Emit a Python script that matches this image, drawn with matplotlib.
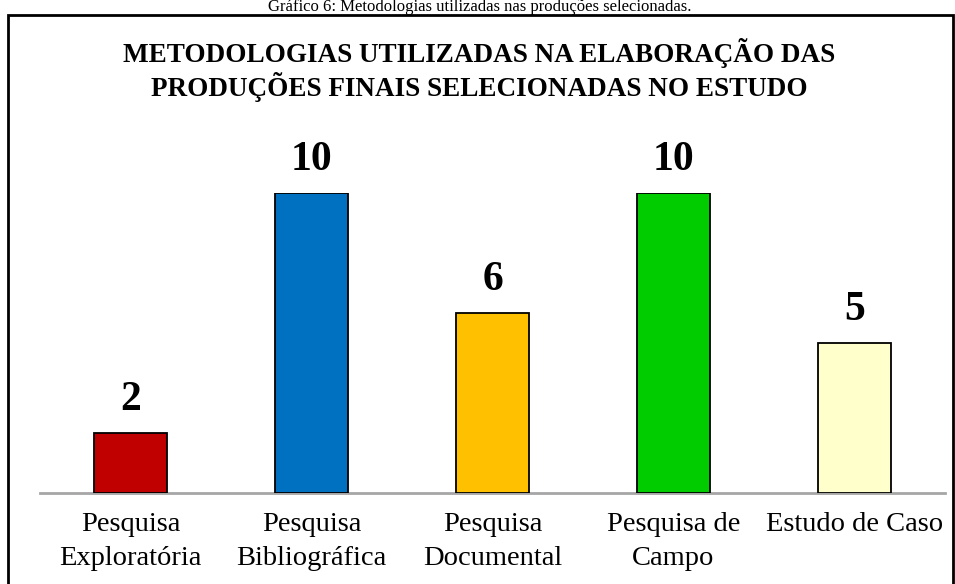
import matplotlib.pyplot as plt
from matplotlib.patches import Rectangle

plt.rcParams['font.family'] = ['Liberation Serif', 'DejaVu Serif']

# data
categorias = ['Pesquisa\nExploratória', 'Pesquisa\nBibliográfica', 'Pesquisa\nDocumental',
              'Pesquisa de\nCampo', 'Estudo de Caso']
valores = [2, 10, 6, 10, 5]
cores = ['#C00000', '#0070C0', '#FFC000', '#00CC00', '#FFFFCC']
titulo = 'METODOLOGIAS UTILIZADAS NA ELABORAÇÃO DAS\nPRODUÇÕES FINAIS SELECIONADAS NO ESTUDO'
legenda = 'Gráfico 6: Metodologias utilizadas nas produções selecionadas.'

W, H = 955, 584
fig = plt.figure(figsize=(W / 100, H / 100), dpi=100)

# outer frame of the chart
fig.add_artist(Rectangle((8 / W, -0.05), (W - 10) / W, (H - 15) / H + 0.05,
                         transform=fig.transFigure, fill=False, edgecolor='black', lw=2))

# caption at the very top
fig.text(480 / W, 1 - 11 / H, legenda, ha='center', va='baseline', fontsize=12)

fig.text(479 / W, 1 - 70 / H, titulo, ha='center', va='center', fontsize=19.5,
         fontweight='bold', linespacing=1.2)

ax = fig.add_axes([40 / W, (H - 493) / H, 905 / W, 300 / H])
x = range(len(valores))
ax.bar(x, valores, width=0.4, color=cores, edgecolor='black', linewidth=1.3, zorder=3)
for i, v in enumerate(valores):
    ax.text(i, v + 0.45, str(v), ha='center', va='bottom', fontsize=30, fontweight='bold')

ax.set_xlim(-0.5, len(valores) - 0.5)
ax.set_ylim(0, 10)
ax.set_xticks(list(x))
ax.set_xticklabels(categorias, fontsize=20.5, linespacing=1.45)
ax.tick_params(axis='x', length=0, pad=14)
ax.set_yticks([])
for s in ['top', 'right', 'left']:
    ax.spines[s].set_visible(False)
ax.spines['bottom'].set_color('#a6a6a6')
ax.spines['bottom'].set_linewidth(2)

fig.savefig('out.png', dpi=100)
